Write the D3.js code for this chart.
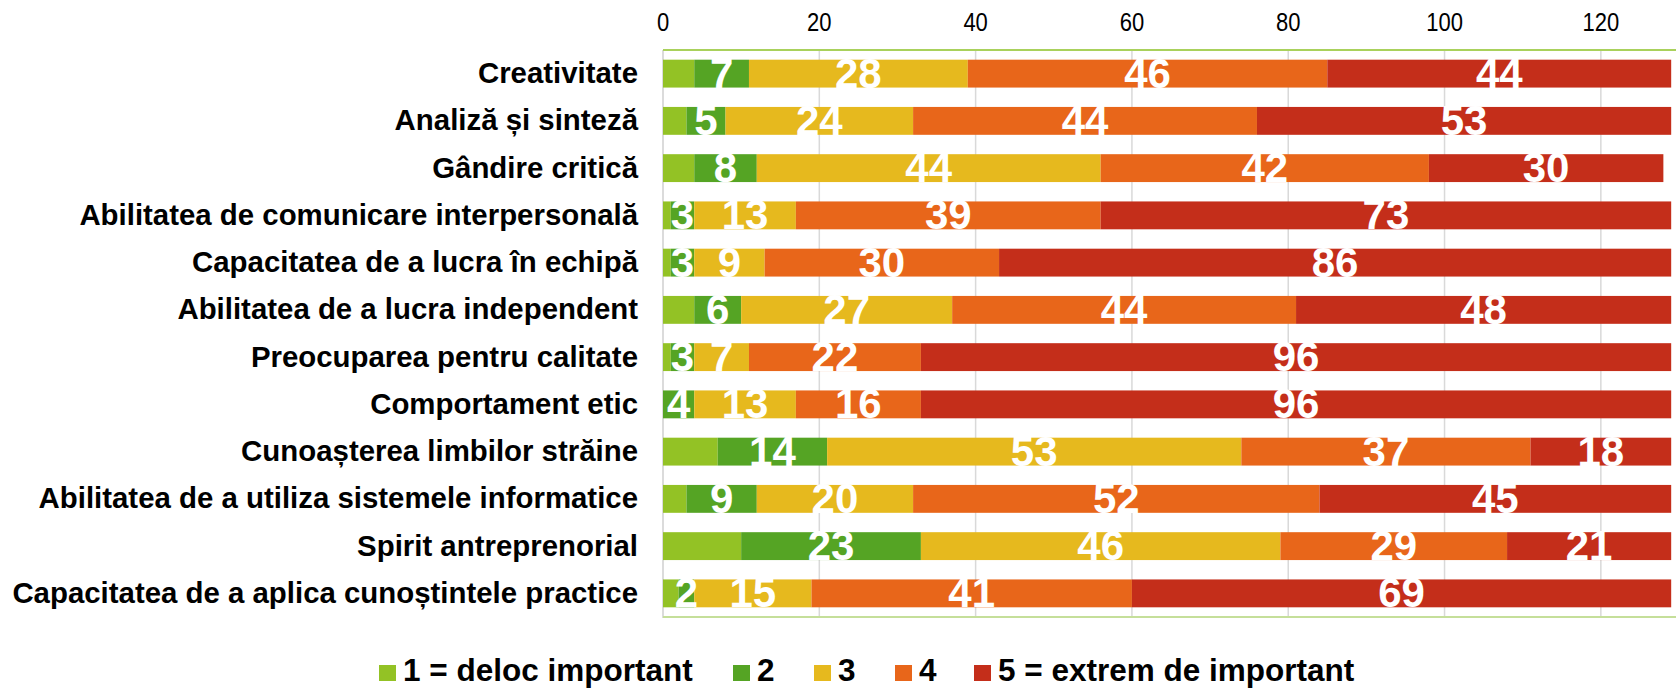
<!DOCTYPE html>
<html>
<head>
<meta charset="utf-8">
<script src="https://cdn.jsdelivr.net/npm/d3@7"></script>
<style>
  html, body { margin: 0; padding: 0; background: #fff; }
  svg { display: block; }
</style>
</head>
<body>
<svg id="chart" width="1676" height="688"></svg>
<script>
const categories = [
  "Creativitate",
  "Analiză și sinteză",
  "Gândire critică",
  "Abilitatea de comunicare interpersonală",
  "Capacitatea de a lucra în echipă",
  "Abilitatea de a lucra independent",
  "Preocuparea pentru calitate",
  "Comportament etic",
  "Cunoașterea limbilor străine",
  "Abilitatea de a utiliza sistemele informatice",
  "Spirit antreprenorial",
  "Capacitatea de a aplica cunoștintele practice"
];
const seriesNames = ["1 = deloc important", "2", "3", "4", "5 = extrem de important"];
const s1 = [4, 3, 4, 1, 1, 4, 1, 0, 7, 3, 10, 2];
const s2 = [7, 5, 8, 3, 3, 6, 3, 4, 14, 9, 23, 2];
const s3 = [28, 24, 44, 13, 9, 27, 7, 13, 53, 20, 46, 15];
const s4 = [46, 44, 42, 39, 30, 44, 22, 16, 37, 52, 29, 41];
const s5 = [44, 53, 30, 73, 86, 48, 96, 96, 18, 45, 21, 69];
const showLabel = [false, true, true, true, true];
const xTicks = [0, 20, 40, 60, 80, 100, 120];
const colors = ["#93c225", "#55a424", "#e6b91e", "#e8661a", "#c42e1a"];

const seriesValues = [s1, s2, s3, s4, s5];
const rows = categories.map((c, i) => {
  const r = { cat: c };
  seriesNames.forEach((s, j) => r["s" + j] = seriesValues[j][i]);
  return r;
});
const keys = seriesNames.map((s, j) => "s" + j);
const stack = d3.stack().keys(keys)(rows);

const svg = d3.select("#chart");
const W = 1676, H = 688;
const plot = { left: 663, right: 1679, top: 50, bottom: 617 };

const x = d3.scaleLinear().domain([0, 130]).range([plot.left, plot.right]);
const y = d3.scaleBand().domain(categories).range([plot.top, plot.bottom]).paddingInner(0.41).paddingOuter(0.205);

// gridlines
svg.append("g").selectAll("line").data(xTicks.filter(t => t > 0)).join("line")
  .attr("x1", d => x(d)).attr("x2", d => x(d))
  .attr("y1", plot.top).attr("y2", plot.bottom)
  .attr("stroke", "#d9d9d9").attr("stroke-width", 1.5);

// left axis line
svg.append("line").attr("x1", plot.left).attr("x2", plot.left)
  .attr("y1", plot.top).attr("y2", plot.bottom + 1)
  .attr("stroke", "#cfcfcf").attr("stroke-width", 1.5);

// top / bottom borders
svg.append("line").attr("x1", plot.left).attr("x2", W)
  .attr("y1", plot.top).attr("y2", plot.top)
  .attr("stroke", "#a9d15c").attr("stroke-width", 2);
svg.append("line").attr("x1", plot.left).attr("x2", W)
  .attr("y1", plot.bottom).attr("y2", plot.bottom)
  .attr("stroke", "#c5df9a").attr("stroke-width", 2);

// bars
const layers = svg.append("g").selectAll("g").data(stack).join("g")
  .attr("fill", (d, i) => colors[i]);
layers.selectAll("rect").data(d => d).join("rect")
  .attr("x", d => x(d[0]))
  .attr("width", d => Math.max(0, x(d[1]) - x(d[0])))
  .attr("y", d => y(d.data.cat))
  .attr("height", y.bandwidth());

// value labels
const fs = 42;
stack.forEach((layer, i) => {
  if (!showLabel[i]) return;
  svg.append("g").selectAll("text").data(layer.filter(d => d[1] - d[0] > 0)).join("text")
    .attr("x", d => x((d[0] + d[1]) / 2))
    .attr("y", d => y(d.data.cat) + y.bandwidth() / 2 - 1 + 0.358 * fs)
    .attr("text-anchor", "middle")
    .attr("font-family", "Liberation Sans, Arial, sans-serif")
    .attr("font-weight", "bold")
    .attr("font-size", fs)
    .attr("fill", "#fff")
    .text(d => d[1] - d[0]);
});

// category labels
const cfs = 29.4;
svg.append("g").selectAll("text").data(categories).join("text")
  .attr("x", 638)
  .attr("y", d => y(d) + y.bandwidth() / 2 - 1 + 0.358 * cfs)
  .attr("text-anchor", "end")
  .attr("font-family", "Liberation Sans, Arial, sans-serif")
  .attr("font-weight", "bold")
  .attr("font-size", cfs)
  .attr("fill", "#000")
  .text(d => d);

// x tick labels (top)
svg.append("g").selectAll("text").data(xTicks).join("text")
  .attr("transform", d => `translate(${x(d)},30.5) scale(0.88,1)`)
  .attr("text-anchor", "middle")
  .attr("font-family", "Liberation Sans, Arial, sans-serif")
  .attr("font-size", 25)
  .attr("fill", "#000")
  .text(d => d);

// legend
const legendX = [379, 733, 814, 895, 974];
const lg = svg.append("g").selectAll("g").data(seriesNames).join("g")
  .attr("transform", (d, i) => `translate(${legendX[i]},0)`);
lg.append("rect").attr("x", 0).attr("y", 665).attr("width", 17).attr("height", 16)
  .attr("fill", (d, i) => colors[i]);
lg.append("text")
  .attr("x", 24).attr("y", 681)
  .attr("font-family", "Liberation Sans, Arial, sans-serif")
  .attr("font-weight", "bold")
  .attr("font-size", 31.5)
  .attr("fill", "#000")
  .text(d => d);
</script>
</body>
</html>
